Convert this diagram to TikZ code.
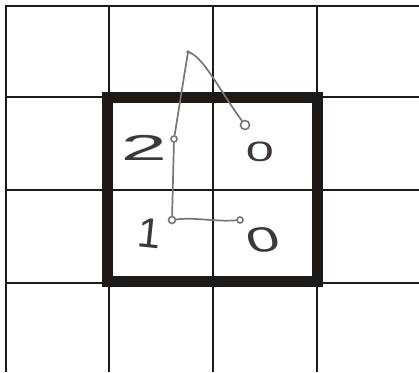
\documentclass[tikz,border=0pt]{standalone}
\usepackage{fontspec}
\setmainfont{Liberation Sans}
\definecolor{ink}{HTML}{1E1A18}
\definecolor{pen}{HTML}{7A7672}
\definecolor{digit}{HTML}{3C3836}
\begin{document}
\begin{tikzpicture}[x=1pt,y=-1pt,
  gridline/.style={draw=ink,line width=2.6pt},
  boldbox/.style={draw=ink,line width=11pt,line join=miter},
  pentrace/.style={draw=pen,line width=1.7pt,line cap=round},
  knot/.style={circle,draw=pen,line width=1.6pt,inner sep=0pt,fill=white},
  digitlabel/.style={text=digit,inner sep=0pt,anchor=center}]
\useasboundingbox (0,0) rectangle (419,372);
\fill[white] (0,0) rectangle (419,372);
% thin grid
\foreach \x in {6,109,213,317} \draw[gridline] (\x,5) -- (\x,372);
\foreach \y in {6,97,190,283} \draw[gridline] (5,\y) -- (419,\y);
% bold square
\draw[boldbox] (107,97) rectangle (317.5,281);
% digits
\node[digitlabel,font=\fontsize{36}{36}\selectfont,xscale=2.3] (two) at (144,148) {2};
\node[digitlabel,font=\fontsize{28}{28}\selectfont,xscale=1.8] (zeroA) at (260,152) {0};
\node[digitlabel,font=\fontsize{42}{42}\selectfont,rotate=-6] (one) at (150,233) {1};
\node[digitlabel,font=\fontsize{35}{35}\selectfont,xscale=1.7,rotate=10] (zeroB) at (263,240) {0};
% pen trace
\coordinate (apex) at (188,52);
\node[knot,minimum size=6pt] (k2) at (174,139) {};
\node[knot,minimum size=7pt] (k1) at (172,220) {};
\node[knot,minimum size=6pt] (k0b) at (240,220) {};
\node[knot,minimum size=9pt] (k0a) at (245,125) {};
\draw[pentrace] (apex) -- (k2) -- (k1);
\draw[pentrace] (k1) .. controls (195,217) and (215,222) .. (k0b);
\draw[pentrace] (apex) .. controls (203,56) and (218,88) .. (k0a);
\fill[pen] (apex) circle (1.8pt);
\end{tikzpicture}
\end{document}
